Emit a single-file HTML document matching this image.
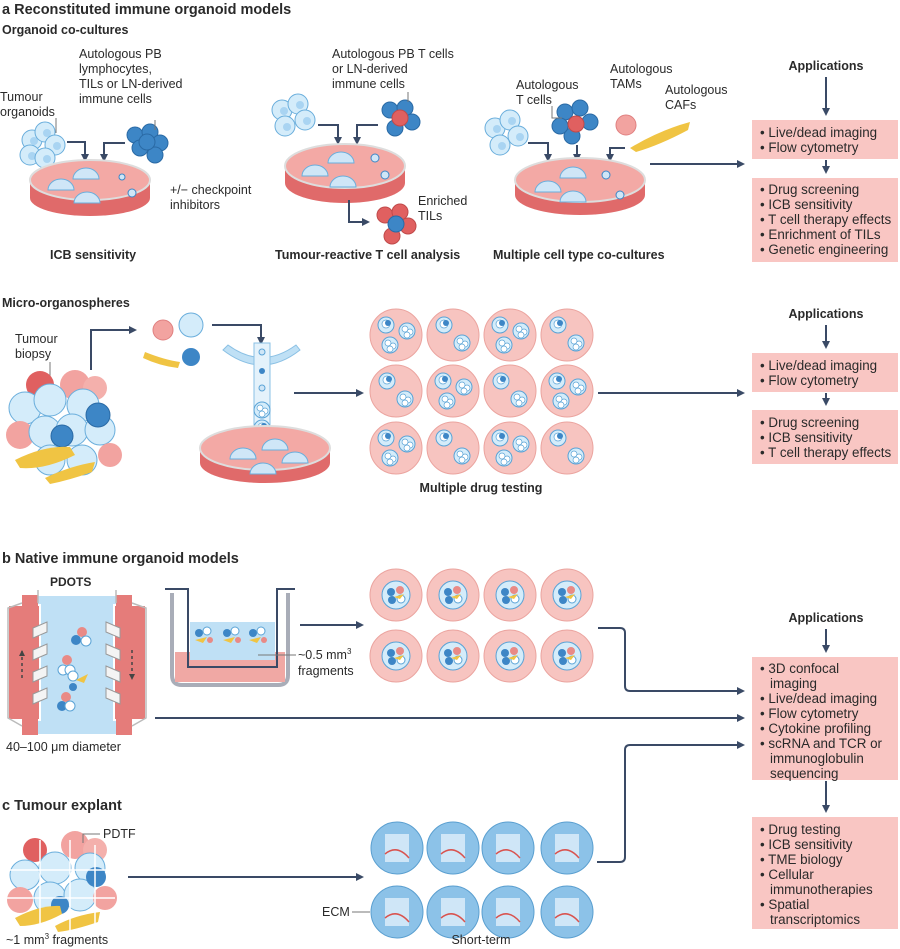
<!DOCTYPE html>
<html><head><meta charset="utf-8"><style>
html,body{margin:0;padding:0;background:#fff}
svg{display:block}
text{font-family:"Liberation Sans",sans-serif;fill:#2a2a2a}
.b{font-weight:bold}
.t{font-size:12.5px}
.x{font-size:13.4px}
.s{font-size:12px}
.ln{stroke:#3a4a66;stroke-width:2;fill:none}
.gl{stroke:#777;stroke-width:1;fill:none}
</style></head><body>
<svg width="900" height="949" viewBox="0 0 900 949" xmlns="http://www.w3.org/2000/svg">
<defs>
<marker id="ar" markerWidth="8" markerHeight="8" refX="6" refY="4" orient="auto" markerUnits="userSpaceOnUse"><path d="M0,0 L8,4 L0,8 z" fill="#3a4a66"/></marker>
<g id="org"><circle r="8" fill="#d4ecfa" stroke="#5aa3d6" stroke-width="1"/><circle cx="-2" cy="-2" r="3" fill="#fff" stroke="#5aa3d6" stroke-width=".7"/><circle cx="3" cy="1" r="3" fill="#fff" stroke="#5aa3d6" stroke-width=".7"/><circle cx="0" cy="4" r="3" fill="#fff" stroke="#5aa3d6" stroke-width=".7"/></g>
<g id="org2"><circle r="8" fill="#d4ecfa" stroke="#5aa3d6" stroke-width="1"/><circle cx="0" cy="-1" r="4" fill="#fff" stroke="#5aa3d6" stroke-width=".7"/><circle cx="2" cy="-2" r="3" fill="#3d86c6"/></g>
<g id="well"><circle r="26" fill="#f7c4c0" stroke="#eba49f" stroke-width="1"/><use href="#org2" x="-9" y="-10"/><use href="#org" x="9" y="8"/></g>
<g id="well3"><circle r="26" fill="#f7c4c0" stroke="#eba49f" stroke-width="1"/><use href="#org2" x="-10" y="-10"/><use href="#org" x="11" y="-4"/><use href="#org" x="-6" y="10"/></g>
<g id="bwell"><circle r="26" fill="#f7c4c0" stroke="#eba49f" stroke-width="1"/><circle r="14" fill="#d4ecfa" stroke="#5aa3d6"/><circle cx="-5" cy="-3" r="4" fill="#3d86c6"/><circle cx="4" cy="-5" r="4" fill="#e98a86"/><circle cx="5" cy="4" r="4" fill="#fff" stroke="#5aa3d6"/><circle cx="-4" cy="5" r="4" fill="#3d86c6"/><path d="M-2 2 L8 -1 L4 4z" fill="#f0c443"/></g>
<g id="cwell"><circle r="26" fill="#8cc2e8" stroke="#5a9fd0" stroke-width="1"/><rect x="-12" y="-14" width="24" height="28" fill="#cfe6f7"/><path d="M-12 6 Q0 -4 12 10" stroke="#d9534f" stroke-width="1.5" fill="none"/></g>
<g id="cellL"><circle r="10" fill="#d4ecfa" stroke="#6aaedc"/><circle cx="2" cy="1" r="4" fill="#a9d4f2"/></g>
<g id="cellB"><circle r="8" fill="#3d86c6" stroke="#2a6aa5"/></g>
<g id="cellR"><circle r="8" fill="#e06060" stroke="#c04a4a"/></g>
</defs>

<text x="2" y="14" class="b" font-size="14.5">a Reconstituted immune organoid models</text>
<text x="2" y="34" class="b" font-size="12.5">Organoid co-cultures</text>

<text x="0" y="101" class="t">Tumour</text><text x="0" y="116" class="t">organoids</text>
<text x="79" y="58" class="t">Autologous PB</text><text x="79" y="73" class="t">lymphocytes,</text><text x="79" y="88" class="t">TILs or LN-derived</text><text x="79" y="103" class="t">immune cells</text>
<use href="#cellL" x="32" y="140"/><use href="#cellL" x="45" y="132"/><use href="#cellL" x="55" y="145"/><use href="#cellL" x="30" y="155"/><use href="#cellL" x="45" y="158"/>
<use href="#cellB" x="135" y="135"/><use href="#cellB" x="150" y="132"/><use href="#cellB" x="160" y="143"/><use href="#cellB" x="140" y="148"/><use href="#cellB" x="155" y="155"/><use href="#cellB" x="147" y="142"/>
<path d="M56 118 V133 M155 120 V130" class="gl"/>
<path d="M67 142 H85 V160" class="ln" marker-end="url(#ar)"/><path d="M125 143 H104 V160" class="ln" marker-end="url(#ar)"/>
<path d="M30 180 V198 A60 18 0 0 0 150 198 V180" fill="#e06a6a"/>
<ellipse cx="90" cy="180" rx="60" ry="20" fill="#f3a9a5" stroke="#ddd" stroke-width="2"/>
<path d="M48 190 A13 11 0 0 1 74 190z" fill="#cfe6f7" stroke="#6aaedc"/><path d="M73 179 A13 11 0 0 1 99 179z" fill="#cfe6f7" stroke="#6aaedc"/><path d="M74 203 A13 11 0 0 1 100 203z" fill="#cfe6f7" stroke="#6aaedc"/>
<circle cx="122" cy="177" r="3" fill="#cfe6f7" stroke="#3d86c6"/><circle cx="132" cy="193" r="4" fill="#cfe6f7" stroke="#3d86c6"/>
<text x="170" y="194" class="t">+/− checkpoint</text><text x="170" y="209" class="t">inhibitors</text>
<text x="50" y="259" class="b" font-size="12.5">ICB sensitivity</text>

<text x="332" y="58" class="t">Autologous PB T cells</text><text x="332" y="73" class="t">or LN-derived</text><text x="332" y="88" class="t">immune cells</text>
<use href="#cellL" x="282" y="110"/><use href="#cellL" x="298" y="104"/><use href="#cellL" x="305" y="120"/><use href="#cellL" x="285" y="126"/>
<use href="#cellB" x="390" y="110"/><use href="#cellB" x="405" y="108"/><use href="#cellB" x="412" y="122"/><use href="#cellB" x="395" y="128"/><use href="#cellR" x="400" y="118"/>
<path d="M408 92 V102" class="gl"/>
<path d="M318 125 H338 V143" class="ln" marker-end="url(#ar)"/><path d="M378 125 H357 V143" class="ln" marker-end="url(#ar)"/>
<path d="M285 166 V183 A60 20 0 0 0 405 183 V166" fill="#e06a6a"/>
<ellipse cx="345" cy="166" rx="60" ry="22" fill="#f3a9a5" stroke="#ddd" stroke-width="2"/>
<path d="M302 176 A13 11 0 0 1 328 176z" fill="#cfe6f7" stroke="#6aaedc"/><path d="M328 163 A13 11 0 0 1 354 163z" fill="#cfe6f7" stroke="#6aaedc"/><path d="M330 187 A13 11 0 0 1 356 187z" fill="#cfe6f7" stroke="#6aaedc"/>
<circle cx="375" cy="158" r="4" fill="#cfe6f7" stroke="#3d86c6"/><circle cx="385" cy="175" r="4" fill="#cfe6f7" stroke="#3d86c6"/>
<path d="M349 200 V222 H368" class="ln" marker-end="url(#ar)"/>
<use href="#cellR" x="385" y="215"/><use href="#cellR" x="400" y="212"/><use href="#cellR" x="408" y="226"/><use href="#cellR" x="392" y="236"/><use href="#cellB" x="396" y="224"/>
<text x="418" y="205" class="t">Enriched</text><text x="418" y="220" class="t">TILs</text>
<text x="275" y="259" class="b" font-size="12.5">Tumour-reactive T cell analysis</text>

<text x="516" y="89" class="t">Autologous</text><text x="516" y="104" class="t">T cells</text>
<text x="610" y="73" class="t">Autologous</text><text x="610" y="88" class="t">TAMs</text>
<text x="665" y="94" class="t">Autologous</text><text x="665" y="109" class="t">CAFs</text>
<use href="#cellL" x="495" y="128"/><use href="#cellL" x="510" y="120"/><use href="#cellL" x="518" y="136"/><use href="#cellL" x="500" y="145"/>
<use href="#cellB" x="565" y="112"/><use href="#cellB" x="580" y="108"/><use href="#cellB" x="590" y="122"/><use href="#cellB" x="572" y="136"/><use href="#cellB" x="560" y="126"/><use href="#cellR" x="576" y="124"/>
<path d="M552 106 V118 H562" class="gl"/>
<circle cx="626" cy="125" r="10" fill="#f2a3a0" stroke="#e08080"/>
<path d="M630 148 Q660 130 690 122 L688 130 Q660 145 636 152z" fill="#f0c443"/>
<path d="M528 143 H548 V160" class="ln" marker-end="url(#ar)"/><path d="M577 145 V160" class="ln" marker-end="url(#ar)"/><path d="M625 148 H610 V160" class="ln" marker-end="url(#ar)"/>
<path d="M515 180 V195 A65 20 0 0 0 645 195 V180" fill="#e06a6a"/>
<ellipse cx="580" cy="180" rx="65" ry="22" fill="#f3a9a5" stroke="#ddd" stroke-width="2"/>
<path d="M535 192 A13 11 0 0 1 561 192z" fill="#cfe6f7" stroke="#6aaedc"/><path d="M560 178 A13 11 0 0 1 586 178z" fill="#cfe6f7" stroke="#6aaedc"/><path d="M560 202 A13 11 0 0 1 586 202z" fill="#cfe6f7" stroke="#6aaedc"/>
<circle cx="606" cy="175" r="4" fill="#cfe6f7" stroke="#3d86c6"/><circle cx="620" cy="195" r="4" fill="#cfe6f7" stroke="#3d86c6"/>
<path d="M650 164 H743" class="ln" marker-end="url(#ar)"/>
<text x="493" y="259" class="b" font-size="12.5">Multiple cell type co-cultures</text>

<text x="826" y="70" class="b" font-size="12.5" text-anchor="middle">Applications</text>
<path d="M826 77 V114" class="ln" stroke-width="1.3" marker-end="url(#ar)"/>
<rect x="752" y="120" width="146" height="39" fill="#f9c6c3"/>
<text x="760" y="137" class="x">• Live/dead imaging</text><text x="760" y="152" class="x">• Flow cytometry</text>
<path d="M826 160 V172" class="ln" stroke-width="1.3" marker-end="url(#ar)"/>
<rect x="752" y="178" width="146" height="84" fill="#f9c6c3"/>
<text x="760" y="194" class="x">• Drug screening</text><text x="760" y="209" class="x">• ICB sensitivity</text><text x="760" y="224" class="x">• T cell therapy effects</text><text x="760" y="239" class="x">• Enrichment of TILs</text><text x="760" y="254" class="x">• Genetic engineering</text>

<text x="2" y="307" class="b" font-size="12.5">Micro-organospheres</text>
<text x="15" y="343" class="t">Tumour</text><text x="15" y="358" class="t">biopsy</text>
<path d="M50 362 V378" class="gl" stroke="#c04040"/>
<g>
<circle cx="40" cy="385" r="14" fill="#e06060"/><circle cx="75" cy="385" r="15" fill="#f2a3a0"/><circle cx="95" cy="388" r="12" fill="#f4b0ac"/>
<circle cx="25" cy="408" r="16" fill="#d4ecfa" stroke="#6aaedc"/><circle cx="50" cy="400" r="16" fill="#d4ecfa" stroke="#6aaedc"/><circle cx="83" cy="405" r="16" fill="#d4ecfa" stroke="#6aaedc"/>
<circle cx="20" cy="435" r="14" fill="#f2a3a0"/><circle cx="45" cy="432" r="16" fill="#d4ecfa" stroke="#6aaedc"/><circle cx="72" cy="430" r="16" fill="#d4ecfa" stroke="#6aaedc"/><circle cx="100" cy="430" r="15" fill="#d4ecfa" stroke="#6aaedc"/>
<circle cx="98" cy="415" r="12" fill="#3d86c6" stroke="#2a6aa5"/><circle cx="62" cy="436" r="11" fill="#3d86c6" stroke="#2a6aa5"/>
<circle cx="50" cy="460" r="15" fill="#d4ecfa" stroke="#6aaedc"/><circle cx="82" cy="460" r="15" fill="#d4ecfa" stroke="#6aaedc"/><circle cx="110" cy="455" r="12" fill="#f2a3a0"/>
<path d="M15 460 Q45 445 70 447 L75 455 Q45 470 20 468z" fill="#f0c443"/><path d="M45 478 Q70 466 95 462 L92 472 Q70 480 50 484z" fill="#f0c443"/>
</g>
<path d="M91 370 V330 H135" class="ln" marker-end="url(#ar)"/>
<circle cx="163" cy="330" r="10" fill="#f2a3a0" stroke="#e08080"/>
<circle cx="191" cy="325" r="12" fill="#d4ecfa" stroke="#6aaedc"/><circle cx="191" cy="357" r="9" fill="#3d86c6"/>
<path d="M145 352 Q165 360 180 362 L178 368 Q160 366 143 358z" fill="#f0c443"/>
<path d="M212 325 H261 V343" class="ln" marker-end="url(#ar)"/>
<path d="M223 350 Q262 380 300 350 L296 345 Q262 370 228 345z" fill="#bfe0f5" stroke="#8ac0e4"/>
<rect x="254" y="343" width="16" height="95" fill="#e4f2fb" stroke="#8ac0e4"/>
<circle cx="262" cy="352" r="3" fill="#cfe6f7" stroke="#5aa3d6"/><circle cx="262" cy="371" r="3" fill="#3d86c6"/><circle cx="262" cy="388" r="3" fill="#cfe6f7" stroke="#5aa3d6"/><use href="#org" x="262" y="410"/><use href="#org2" x="262" y="428"/>
<path d="M200 448 V463 A65 20 0 0 0 330 463 V448" fill="#e06a6a"/>
<ellipse cx="265" cy="448" rx="65" ry="22" fill="#f3a9a5" stroke="#ddd" stroke-width="2"/>
<path d="M230 459 A13 11 0 0 1 256 459z" fill="#cfe6f7" stroke="#6aaedc"/><path d="M262 450 A13 11 0 0 1 288 450z" fill="#cfe6f7" stroke="#6aaedc"/><path d="M250 474 A13 11 0 0 1 276 474z" fill="#cfe6f7" stroke="#6aaedc"/><path d="M282 463 A13 11 0 0 1 308 463z" fill="#cfe6f7" stroke="#6aaedc"/>
<path d="M294 393 H362" class="ln" marker-end="url(#ar)"/>
<use href="#well3" x="396" y="335"/><use href="#well" x="453" y="335"/><use href="#well3" x="510" y="335"/><use href="#well" x="567" y="335"/>
<use href="#well" x="396" y="391"/><use href="#well3" x="453" y="391"/><use href="#well" x="510" y="391"/><use href="#well3" x="567" y="391"/>
<use href="#well3" x="396" y="448"/><use href="#well" x="453" y="448"/><use href="#well3" x="510" y="448"/><use href="#well" x="567" y="448"/>
<text x="481" y="492" class="b" font-size="12.5" text-anchor="middle">Multiple drug testing</text>
<path d="M598 393 H743" class="ln" marker-end="url(#ar)"/>

<text x="826" y="318" class="b" font-size="12.5" text-anchor="middle">Applications</text>
<path d="M826 325 V347" class="ln" stroke-width="1.3" marker-end="url(#ar)"/>
<rect x="752" y="353" width="146" height="39" fill="#f9c6c3"/>
<text x="760" y="370" class="x">• Live/dead imaging</text><text x="760" y="385" class="x">• Flow cytometry</text>
<path d="M826 393 V404" class="ln" stroke-width="1.3" marker-end="url(#ar)"/>
<rect x="752" y="410" width="146" height="54" fill="#f9c6c3"/>
<text x="760" y="427" class="x">• Drug screening</text><text x="760" y="442" class="x">• ICB sensitivity</text><text x="760" y="457" class="x">• T cell therapy effects</text>

<text x="2" y="563" class="b" font-size="14.5">b Native immune organoid models</text>
<text x="50" y="586" class="b" font-size="12">PDOTS</text>
<g>
<rect x="38" y="596" width="78" height="138" fill="#bfe0f5"/>
<rect x="8" y="605" width="32" height="115" fill="#e57c7a" stroke="#fff" stroke-width="2"/>
<rect x="22" y="595" width="16" height="140" fill="#e57c7a"/>
<rect x="114" y="605" width="32" height="115" fill="#e57c7a" stroke="#fff" stroke-width="2"/>
<rect x="116" y="595" width="16" height="140" fill="#e57c7a"/>
<path d="M22 603 L8 608 V718 L22 726 M132 603 L146 608 V718 L132 726 M38 603 V590 M116 603 V590" stroke="#bbb" stroke-width="1.5" fill="none"/>
<path d="M22 651 V680 M132 650 V680" stroke="#444" stroke-width="1.5" stroke-dasharray="3 3" fill="none"/>
<path d="M19 656 L22 650 L25 656z M129 674 L132 680 L135 674z" fill="#444"/>
<g fill="#f4f4f4" stroke="#999"><path d="M33 628 L47 622 V632 L33 638z"/><path d="M33 650 L47 644 V654 L33 660z"/><path d="M33 672 L47 666 V676 L33 682z"/><path d="M33 694 L47 688 V698 L33 704z"/><path d="M106 622 L120 628 V638 L106 632z"/><path d="M106 644 L120 650 V660 L106 654z"/><path d="M106 666 L120 672 V682 L106 676z"/><path d="M106 688 L120 694 V704 L106 698z"/></g>
<circle cx="82" cy="632" r="5" fill="#e98a86"/><circle cx="76" cy="640" r="5" fill="#3d86c6"/><circle cx="86" cy="641" r="5" fill="#fff" stroke="#5aa3d6"/>
<circle cx="67" cy="660" r="5" fill="#e98a86"/><circle cx="63" cy="670" r="5" fill="#fff" stroke="#5aa3d6"/><circle cx="70" cy="670" r="5" fill="#fff" stroke="#5aa3d6"/>
<circle cx="73" cy="676" r="5" fill="#fff" stroke="#5aa3d6"/><path d="M76 680 L88 674 L84 683z" fill="#f0c443"/><circle cx="73" cy="687" r="4" fill="#3d86c6"/>
<circle cx="66" cy="697" r="5" fill="#e98a86"/><circle cx="62" cy="706" r="5" fill="#3d86c6"/><circle cx="70" cy="706" r="5" fill="#fff" stroke="#5aa3d6"/>
</g>
<text x="6" y="751" class="t">40–100 μm diameter</text>
<path d="M172 593 V675 Q172 685 182 685 H278 Q288 685 288 675 V593" stroke="#a9adb8" stroke-width="4" fill="none"/>
<rect x="175" y="652" width="110" height="30" fill="#f0a8a4"/>
<rect x="190" y="622" width="85" height="38" fill="#bfe0f5"/>
<path d="M165 589 H188 V667 H277 V589 H295" stroke="#3a4a66" stroke-width="2" fill="none"/>
<path d="M190 667 H276" stroke="#3a4a66" stroke-width="2" stroke-dasharray="3 2"/>
<g><circle cx="199" cy="633" r="4" fill="#3d86c6"/><circle cx="207" cy="631" r="4" fill="#fff" stroke="#5aa3d6"/><circle cx="210" cy="640" r="3" fill="#e98a86"/><path d="M195 640 L207 637 L203 643z" fill="#f0c443"/></g>
<g transform="translate(28 0)"><circle cx="199" cy="633" r="4" fill="#3d86c6"/><circle cx="207" cy="631" r="4" fill="#fff" stroke="#5aa3d6"/><circle cx="210" cy="640" r="3" fill="#e98a86"/><path d="M195 640 L207 637 L203 643z" fill="#f0c443"/></g>
<g transform="translate(54 0)"><circle cx="199" cy="633" r="4" fill="#3d86c6"/><circle cx="207" cy="631" r="4" fill="#fff" stroke="#5aa3d6"/><circle cx="210" cy="640" r="3" fill="#e98a86"/><path d="M195 640 L207 637 L203 643z" fill="#f0c443"/></g>
<path d="M258 655 H296" class="gl"/>
<text x="298" y="659" class="t">~0.5 mm<tspan font-size="8" dy="-5">3</tspan></text><text x="298" y="675" class="t">fragments</text>
<path d="M300 625 H362" class="ln" marker-end="url(#ar)"/>
<use href="#bwell" x="396" y="595"/><use href="#bwell" x="453" y="595"/><use href="#bwell" x="510" y="595"/><use href="#bwell" x="567" y="595"/>
<use href="#bwell" x="396" y="656"/><use href="#bwell" x="453" y="656"/><use href="#bwell" x="510" y="656"/><use href="#bwell" x="567" y="656"/>
<path d="M598 628 H620 Q625 628 625 633 V686 Q625 691 630 691 H743" class="ln" marker-end="url(#ar)"/>
<path d="M155 718 H743" class="ln" marker-end="url(#ar)"/>

<text x="826" y="622" class="b" font-size="12.5" text-anchor="middle">Applications</text>
<path d="M826 629 V651" class="ln" stroke-width="1.3" marker-end="url(#ar)"/>
<rect x="752" y="657" width="146" height="123" fill="#f9c6c3"/>
<text x="760" y="673" class="x">• 3D confocal</text><text x="770" y="688" class="x">imaging</text><text x="760" y="703" class="x">• Live/dead imaging</text><text x="760" y="718" class="x">• Flow cytometry</text><text x="760" y="733" class="x">• Cytokine profiling</text><text x="760" y="748" class="x">• scRNA and TCR or</text><text x="770" y="763" class="x">immunoglobulin</text><text x="770" y="778" class="x">sequencing</text>
<path d="M826 781 V811" class="ln" stroke-width="1.3" marker-end="url(#ar)"/>
<rect x="752" y="817" width="146" height="112" fill="#f9c6c3"/>
<text x="760" y="834" class="x">• Drug testing</text><text x="760" y="849" class="x">• ICB sensitivity</text><text x="760" y="864" class="x">• TME biology</text><text x="760" y="879" class="x">• Cellular</text><text x="770" y="894" class="x">immunotherapies</text><text x="760" y="909" class="x">• Spatial</text><text x="770" y="924" class="x">transcriptomics</text>

<text x="2" y="810" class="b" font-size="14.5">c Tumour explant</text>
<g>
<circle cx="35" cy="850" r="12" fill="#e06060"/><circle cx="75" cy="845" r="14" fill="#f2a3a0"/><circle cx="95" cy="850" r="12" fill="#f4b0ac"/>
<circle cx="25" cy="875" r="15" fill="#d4ecfa" stroke="#6aaedc"/><circle cx="55" cy="868" r="16" fill="#d4ecfa" stroke="#6aaedc"/><circle cx="90" cy="868" r="15" fill="#d4ecfa" stroke="#6aaedc"/>
<circle cx="20" cy="900" r="13" fill="#f2a3a0"/><circle cx="50" cy="898" r="16" fill="#d4ecfa" stroke="#6aaedc"/><circle cx="80" cy="895" r="16" fill="#d4ecfa" stroke="#6aaedc"/><circle cx="105" cy="898" r="12" fill="#f2a3a0"/>
<circle cx="96" cy="877" r="10" fill="#3d86c6"/><circle cx="60" cy="905" r="9" fill="#3d86c6"/>
<path d="M15 918 Q40 905 60 906 L62 914 Q40 926 20 926z" fill="#f0c443"/><path d="M55 926 Q75 915 100 912 L98 922 Q75 930 58 932z" fill="#f0c443"/>
<path d="M5 898 H115 M5 870 H115 M40 840 V935 M70 840 V935 M95 845 V930" stroke="#fff" stroke-width="1.5"/>
</g>
<path d="M83 843 V834 H100" class="gl"/><text x="103" y="838" class="t">PDTF</text>
<text x="6" y="944" class="t">~1 mm<tspan font-size="8" dy="-5">3</tspan><tspan dy="5"> fragments</tspan></text>
<path d="M128 877 H362" class="ln" marker-end="url(#ar)"/>
<use href="#cwell" x="397" y="848"/><use href="#cwell" x="453" y="848"/><use href="#cwell" x="508" y="848"/><use href="#cwell" x="567" y="848"/>
<use href="#cwell" x="397" y="912"/><use href="#cwell" x="453" y="912"/><use href="#cwell" x="508" y="912"/><use href="#cwell" x="567" y="912"/>
<path d="M352 912 H370" class="gl"/><text x="322" y="916" class="t">ECM</text>
<text x="481" y="944" class="t" text-anchor="middle">Short-term</text>
<path d="M597 862 H620 Q625 862 625 857 V750 Q625 745 630 745 H743" class="ln" marker-end="url(#ar)"/>
</svg>
</body></html>
